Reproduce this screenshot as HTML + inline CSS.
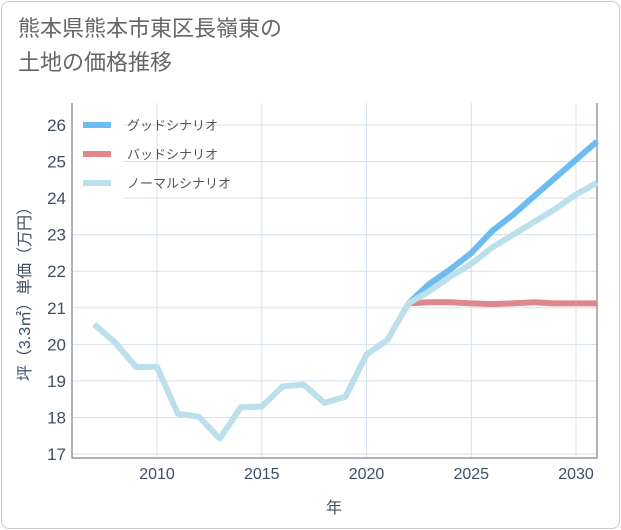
<!DOCTYPE html>
<html><head><meta charset="utf-8"><style>
html,body{margin:0;padding:0;background:#fff;}
body{width:621px;height:530px;overflow:hidden;font-family:"Liberation Sans","Noto Sans CJK JP",sans-serif;}
.card{position:absolute;left:1px;top:1px;width:617px;height:526px;border:1px solid #ccc;border-radius:8px;background:#fff;}
.title{position:absolute;left:18px;top:12px;font-size:22px;line-height:34px;color:#666;}
</style></head><body>
<div class="card"></div>
<div class="title">熊本県熊本市東区長嶺東の<br>土地の価格推移</div>
<svg id="chart" width="621" height="530" style="position:absolute;left:0;top:0"></svg>
<script>
const years=[2007,2008,2009,2010,2011,2012,2013,2014,2015,2016,2017,2018,2019,2020,2021,2022];
const histVals=[20.55,20.05,19.38,19.38,18.1,18.02,17.42,18.28,18.3,18.85,18.9,18.4,18.57,19.72,20.12,21.12];
const futYears=[2022,2023,2024,2025,2026,2027,2028,2029,2030,2031];
const goodVals=[21.12,21.65,22.05,22.5,23.1,23.55,24.05,24.55,25.05,25.55];
const badVals=[21.12,21.15,21.15,21.12,21.1,21.12,21.15,21.12,21.12,21.12];
const normVals=[21.12,21.45,21.85,22.2,22.65,23.0,23.35,23.7,24.1,24.42];
const yTicks=[17,18,19,20,21,22,23,24,25,26];
const xTicks=[2010,2015,2020,2025,2030];
const legendLabels=["グッドシナリオ","バッドシナリオ","ノーマルシナリオ"];
const L=72,R=597,T=103,B=458;
const X=v=>157+(v-2010)*20.95;
const Y=v=>125+(26-v)*36.56;
const svg=document.getElementById('chart');
const NS='http://www.w3.org/2000/svg';
function mk(tag,attrs){const e=document.createElementNS(NS,tag);for(const k in attrs)e.setAttribute(k,attrs[k]);svg.appendChild(e);return e;}
for(const t of yTicks){
 const l=mk('line',{x1:L,x2:R,y1:Y(t),y2:Y(t),stroke:'#d5e0ec','stroke-width':1});
 
 
 const tx=mk('text',{x:L-6,y:Y(t)+6,'text-anchor':'end','font-size':17,fill:'#3d4f66'});
 tx.textContent=t;
 
 
}
for(const t of xTicks){
 const l=mk('line',{x1:X(t),x2:X(t),y1:T,y2:B,stroke:'#d5e0ec','stroke-width':1});
 
 
 const tx=mk('text',{x:X(t),y:B+21,'text-anchor':'middle','font-size':16,fill:'#3d4f66'});
 tx.textContent=t;
 
 
}
const ax=mk('path',{d:`M${L},${T}V${B}H${R}V${T}`,fill:'none',stroke:'#999','stroke-width':1.5});


function line(xs,vs,color,name){
 const d=xs.map((x,i)=>(i?'L':'M')+X(x).toFixed(1)+','+Y(vs[i]).toFixed(1)).join('');
 const p=mk('path',{d,fill:'none',stroke:color,'stroke-width':6,'stroke-linejoin':'round'});
 
 
}
line(futYears,badVals,'#e0868d','bad-scenario-line');
line(futYears,goodVals,'#6cbcf2','good-scenario-line');
line(futYears,normVals,'#bcdfec','normal-scenario-line');
line(years,histVals,'#bcdfec','historical-line');
const lb=mk('rect',{x:L+1,y:T+2,width:50,height:96,fill:'#fff'});


const lc=['#6cbcf2','#e0868d','#bcdfec'];
legendLabels.forEach((s,i)=>{
 const y=125+i*29;
 const sw=mk('line',{x1:83,x2:111,y1:y,y2:y,stroke:lc[i],'stroke-width':6});
 
 
 const t=mk('text',{x:127,y:y+5,'font-size':13,fill:'#555'});
 t.textContent=s;
 
 
});
const xt=mk('text',{x:334,y:513,'text-anchor':'middle','font-size':16,fill:'#3d4f66'});
xt.textContent='年';


const yt=mk('text',{x:0,y:0,'text-anchor':'middle','font-size':16,fill:'#3d4f66',transform:'translate(30,290) rotate(-90)'});
yt.textContent='坪（3.3㎡）単価（万円）';


</script>
</body></html>
